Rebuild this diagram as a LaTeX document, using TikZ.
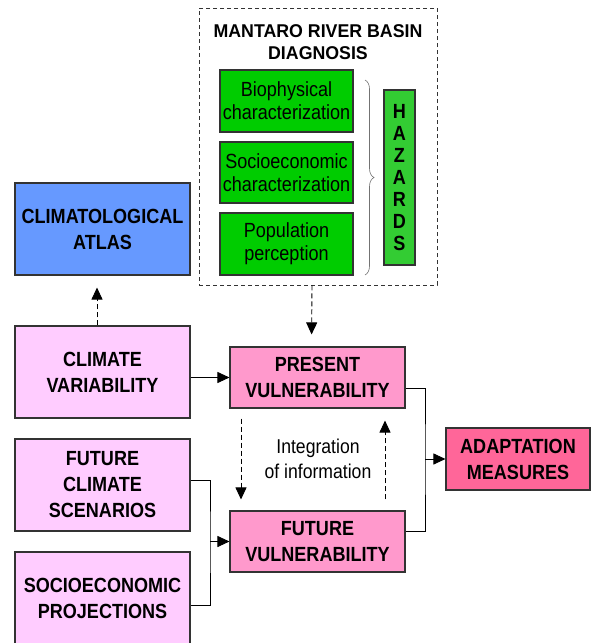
\documentclass[tikz,border=0pt]{standalone}
\usepackage{fontspec}
\setmainfont{Liberation Sans}[FakeStretch=0.88]
\newfontfamily\titlefont{Liberation Sans}[FakeStretch=0.96]
\usetikzlibrary{arrows.meta,decorations.pathreplacing}
\definecolor{atlasblue}{RGB}{102,153,255}
\definecolor{lightpink}{RGB}{255,204,255}
\definecolor{midpink}{RGB}{255,153,204}
\definecolor{deeppink}{RGB}{255,102,153}
\definecolor{boxgreen}{RGB}{0,204,0}
\definecolor{hazgreen}{RGB}{51,204,51}
\begin{document}
\begin{tikzpicture}[x=1pt,y=-1pt,
  box/.style={draw=black!80, line width=1.1pt, inner sep=0pt, align=center,
    font=\bfseries\fontsize{20.5}{26}\selectfont},
  gbox/.style={draw=black!80, line width=1.1pt, fill=boxgreen, inner sep=0pt, align=center,
    font=\fontsize{20.5}{23}\selectfont, minimum width=133pt},
  arr/.style={line width=0.9pt, -{Triangle[length=12pt,width=11pt]}},
  darr/.style={arr, dash pattern=on 5pt off 3pt},
  link/.style={line width=0.9pt}]
\clip (0,0) rectangle (592,643);
\fill[white] (0,0) rectangle (592,643);

% diagnosis group
\node[draw=black!80, line width=0.8pt, dash pattern=on 4pt off 3pt, inner sep=0pt,
  minimum width=238pt, minimum height=277pt] (diag) at (318,146.5) {};
\node[font=\titlefont\bfseries\fontsize{18.5}{22}\selectfont, align=center] (title) at (318,42.5) {MANTARO RIVER BASIN\\DIAGNOSIS};
\node[gbox, minimum height=62pt] (bio) at (286.5,101) {Biophysical\\characterization};
\node[gbox, minimum height=61pt] (soc) at (286.5,172.5) {Socioeconomic\\characterization};
\node[gbox, minimum height=62pt] (pop) at (286.5,244) {Population\\perception};
\coordinate (bt) at (365,80);
\coordinate (bb) at (365,275);
\draw[decorate, decoration={brace, amplitude=9pt}, line width=0.6pt, black!55] (bt) -- (bb);
\node[draw=black!80, line width=1.1pt, fill=hazgreen, inner sep=0pt, align=center,
  minimum width=31pt, minimum height=175pt, font=\bfseries\fontsize{20.5}{22}\selectfont] (haz) at (399.5,177.5) {H\\A\\Z\\A\\R\\D\\S};

% left column
\node[box, fill=atlasblue, minimum width=175pt, minimum height=92pt] (atlas) at (102.5,229) {CLIMATOLOGICAL\\ATLAS};
\node[box, fill=lightpink, minimum width=175pt, minimum height=92pt] (cv) at (102.5,372) {CLIMATE\\VARIABILITY};
\node[box, fill=lightpink, minimum width=175pt, minimum height=92pt] (fcs) at (102.5,485) {FUTURE\\CLIMATE\\SCENARIOS};
\node[box, fill=lightpink, minimum width=175pt, minimum height=93pt] (sp) at (102.5,598.5) {SOCIOECONOMIC\\PROJECTIONS};

% middle column
\node[box, fill=midpink, minimum width=175pt, minimum height=61pt] (pv) at (317.5,377.5) {PRESENT\\VULNERABILITY};
\node[box, fill=midpink, minimum width=175pt, minimum height=61pt] (fv) at (317.5,541.5) {FUTURE\\VULNERABILITY};
\node[font=\fontsize{20}{25}\selectfont, align=center] (integ) at (318,459) {Integration\\of information};

% right
\node[box, fill=deeppink, minimum width=144pt, minimum height=62pt] (am) at (518,459) {ADAPTATION\\MEASURES};

% connectors
\draw[darr, shorten >=12pt] ([xshift=-5.5pt]cv.north) -- ([xshift=-5.5pt]atlas.south);
\draw[darr, shorten >=12pt] ([xshift=-6pt]diag.south) -- ([xshift=-6pt]pv.north);
\draw[arr] (cv.east |- pv.west) -- (pv.west);

\coordinate (j) at (210,541.5);
\draw[link] ([yshift=5pt]fcs.east) -| (j) |- ([yshift=-6.5pt]sp.east);
\draw[arr] (j) -- (fv.west);

\coordinate (k) at (425,459);
\draw[link] ([yshift=-10.5pt]pv.east) -| (k) |- ([yshift=10.5pt]fv.east);
\draw[arr] (k) -- (am.west);

\draw[darr, shorten <=10pt, shorten >=11pt] ([xshift=-76.5pt]pv.south) -- ([xshift=-76.5pt]fv.north);
\draw[darr, shorten <=11pt, shorten >=12pt] ([xshift=67.5pt]fv.north) -- ([xshift=67.5pt]pv.south);
\end{tikzpicture}
\end{document}
